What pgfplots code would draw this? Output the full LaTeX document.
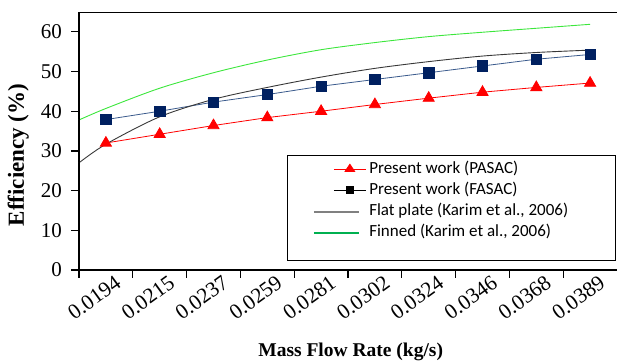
\documentclass[border=0pt]{standalone}
\usepackage{fontspec}
\setmainfont{Liberation Serif}
\newfontfamily\legfont{Carlito}
\usepackage{pgfplots}
\pgfplotsset{compat=1.18}
\definecolor{navy}{HTML}{002060}
\definecolor{navyline}{HTML}{3A5A8C}
\definecolor{flatc}{HTML}{383838}
\definecolor{finc}{HTML}{3CE63C}
\definecolor{legflat}{HTML}{808080}
\definecolor{legfin}{HTML}{00B050}
\begin{document}
\begin{tikzpicture}
\path[use as bounding box] (-79pt,-93pt) rectangle (538pt,270pt);
\begin{axis}[
  scale only axis, width=538pt, height=258pt,
  at={(0pt,0pt)}, anchor=south west,
  xmin=-0.5, xmax=9.5, ymin=0, ymax=65,
  axis x line*=bottom, axis y line*=left,
  axis line style={line width=1.5pt, -},
  tick align=outside, major tick length=7.5pt,
  tick style={line width=1.3pt, black},
  xtick={-0.5,0.5,...,8.5}, xticklabels={},
  xticklabel style={rotate=36, anchor=north east, inner sep=1pt, yshift=-7pt, xshift=5pt,
     font=\fontsize{21.5}{21.5}\selectfont},
  extra x ticks={0,1,2,3,4,5,6,7,8,9},
  extra x tick labels={0.0194,0.0215,0.0237,0.0259,0.0281,0.0302,0.0324,0.0346,0.0368,0.0389},
  extra x tick style={major tick length=0pt},
  ytick={0,10,...,60},
  /pgf/number format/assume math mode=true,
  yticklabel style={font=\fontsize{21}{21}\selectfont, xshift=-6pt},
  xlabel={\textbf{Mass Flow Rate (kg/s)}},
  ylabel={\textbf{Efficiency (\%)}},
  x label style={at={(axis description cs:0.505,0)}, anchor=center, yshift=-82pt, font=\fontsize{19.5}{19.5}\selectfont},
  y label style={at={(axis description cs:-0.113,0.446)}, anchor=center, font=\fontsize{23}{23}\selectfont},
  legend style={at={(rel axis cs:0.435,0.423)}, anchor=north west, draw=none, fill=none,
     inner sep=0pt, row sep=5pt, column sep=3pt,
     font=\legfont\fontsize{17}{17}\selectfont,
     nodes={inner sep=0pt, text height=12.5pt, text depth=3.5pt}},
  legend cell align=left,
  after end axis/.code={
    \draw[line width=0.8pt] (rel axis cs:0,0) rectangle (rel axis cs:1,1);
    \draw[line width=0.8pt, fill=white] (rel axis cs:0.3866,0.0388) rectangle (rel axis cs:0.9963,0.4457);
  },
]
\addplot[red, line width=0.8pt, mark=triangle*, mark size=6.4pt, mark options={solid},
  legend image code/.code={
    \path[draw=none, fill=none] (0pt,-4pt) rectangle (52pt,4pt);
    \draw[red, line width=0.8pt] (20pt,0pt) -- (52pt,0pt);
    \fill[red] (36pt,4.8pt) -- (31.2pt,-2.4pt) -- (40.8pt,-2.4pt) -- cycle;}]
  coordinates {(0,32.0) (1,34.2) (2,36.4) (3,38.4) (4,40.0) (5,41.7) (6,43.3) (7,44.8) (8,46.0) (9,47.1)};
\addlegendentry{Present work (PASAC)}
\addplot[navyline, line width=0.8pt, mark=square*, mark size=5.2pt, mark options={navy, fill=navy},
  legend image code/.code={
    \path[draw=none, fill=none] (0pt,-4pt) rectangle (52pt,4pt);
    \draw[black, line width=0.8pt] (20pt,0pt) -- (52pt,0pt);
    \fill[black] (32.2pt,-3.8pt) rectangle (39.8pt,3.8pt);}]
  coordinates {(0,37.9) (1,40.0) (2,42.3) (3,44.2) (4,46.3) (5,48.0) (6,49.7) (7,51.4) (8,53.1) (9,54.3)};
\addlegendentry{Present work (FASAC)}
\addplot[flatc, line width=0.9pt, smooth, no marks,
  legend image code/.code={
    \path[draw=none, fill=none] (0pt,-4pt) rectangle (52pt,4pt);
    \draw[legflat, line width=1.3pt] (0pt,-1pt) -- (45pt,-1pt);}]
  coordinates {(-0.5,27.0) (0,31.7) (1,38.6) (2,43.0) (3,46.0) (4,48.6) (5,50.8) (6,52.5) (7,53.9) (8,54.8) (9,55.4)};
\addlegendentry{Flat plate (Karim et al., 2006)}
\addplot[finc, line width=0.9pt, smooth, no marks,
  legend image code/.code={
    \path[draw=none, fill=none] (0pt,-4pt) rectangle (52pt,4pt);
    \draw[legfin, line width=1.3pt] (0pt,-1pt) -- (45pt,-1pt);}]
  coordinates {(-0.5,37.8) (0,40.7) (1,45.8) (2,49.7) (3,52.9) (4,55.5) (5,57.3) (6,58.8) (7,59.9) (8,60.9) (9,61.9)};
\addlegendentry{Finned (Karim et al., 2006)}
\end{axis}
\end{tikzpicture}
\end{document}
